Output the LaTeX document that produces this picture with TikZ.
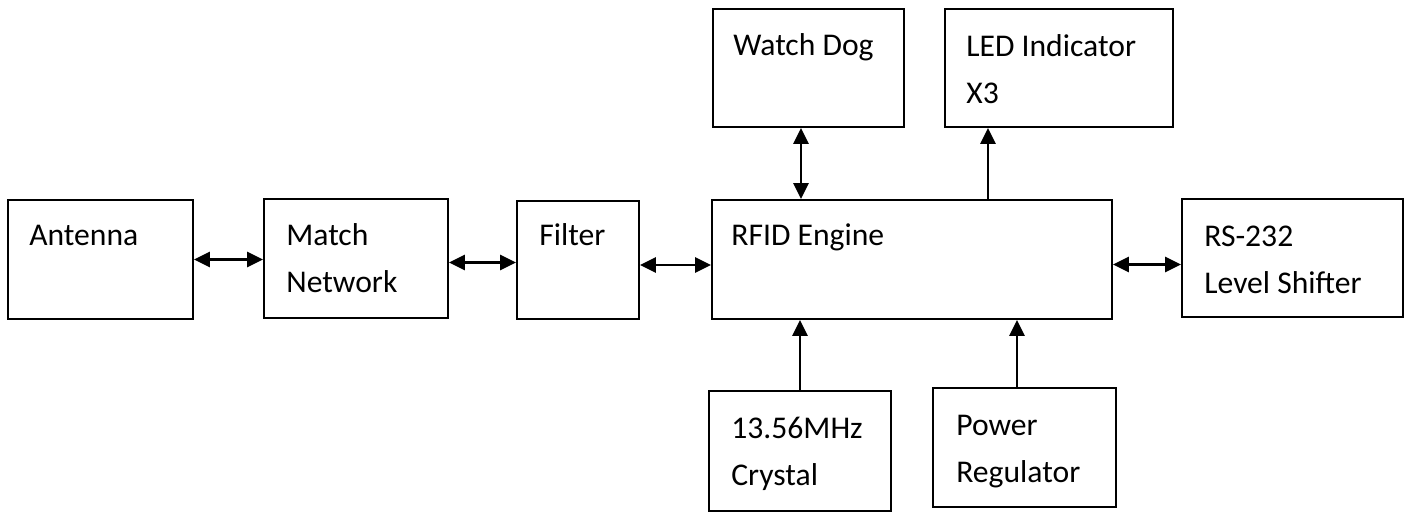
\documentclass[tikz,border=0pt]{standalone}
\usepackage{fontspec}
\setmainfont{Carlito}
\usepackage{tikz}
\usetikzlibrary{arrows.meta, positioning, calc, fit}

\tikzset{
  blk/.style={draw, line width=1.1pt, inner sep=0pt},
  txt/.style={anchor=base west, inner sep=0pt, align=left,
    font=\fontsize{18pt}{26.7pt}\selectfont},
  link/.style={line width=1.4pt, {Triangle[length=9pt,width=8.5pt]}-{Triangle[length=9pt,width=8.5pt]}},
  feed/.style={line width=1.4pt, -{Triangle[length=9pt,width=8.5pt]}}
}

\begin{document}
\begin{tikzpicture}[x=0.02cm, y=-0.02cm]
    \useasboundingbox (0,0) rectangle (1410,512);

    % blocks
    \node[blk, fit={(8,200) (193,319)}] (ant) {};
    \node[blk, fit={(264,199) (448,318)}] (match) {};
    \node[blk, fit={(517,201) (639,319)}] (filter) {};
    \node[blk, fit={(712,200) (1112,319)}] (rfid) {};
    \node[blk, fit={(1182,199) (1403,317)}] (rs) {};
    \node[blk, fit={(713,9) (904,127)}] (wd) {};
    \node[blk, fit={(945,9) (1173,127)}] (led) {};
    \node[blk, fit={(709,391) (891,511)}] (xtal) {};
    \node[blk, fit={(933,388) (1116,507)}] (pwr) {};

    % labels (base of the last line)
    \node[txt] at (29,245) {Antenna};
    \node[txt] at (286,292) {Match\\Network};
    \node[txt] at (539,245) {Filter};
    \node[txt] at (731,245) {RFID Engine};
    \node[txt] at (1204,293) {RS-232\\Level Shifter};
    \node[txt] at (733,55) {Watch Dog};
    \node[txt] at (966,103) {LED Indicator\\X3};
    \node[txt] at (731,485) {13.56MHz\\Crystal};
    \node[txt] at (956,482) {Power\\Regulator};

    % signal paths
    \draw[link] (ant.east) -- (ant.east -| match.west);
    \draw[link] ([yshift=-0.08cm]match.east) -- ([yshift=-0.08cm]match.east -| filter.west);
    \draw[link] ([yshift=-0.1cm]filter.east) -- ([yshift=-0.1cm]filter.east -| rfid.west);
    \draw[link] ([yshift=-0.1cm]rfid.east) -- ([yshift=-0.1cm]rfid.east -| rs.west);
    \draw[link] ([xshift=-0.15cm]wd.south) -- ([xshift=-0.15cm]wd.south |- rfid.north);
    \coordinate (ledin) at ([xshift=0.88cm]led.south west);
    \draw[feed] (rfid.north -| ledin) -- (ledin);
    \draw[feed] (xtal.north) -- (xtal.north |- rfid.south);
    \draw[feed] ([xshift=-0.15cm]pwr.north) -- ([xshift=-0.15cm]pwr.north |- rfid.south);
\end{tikzpicture}
\end{document}
